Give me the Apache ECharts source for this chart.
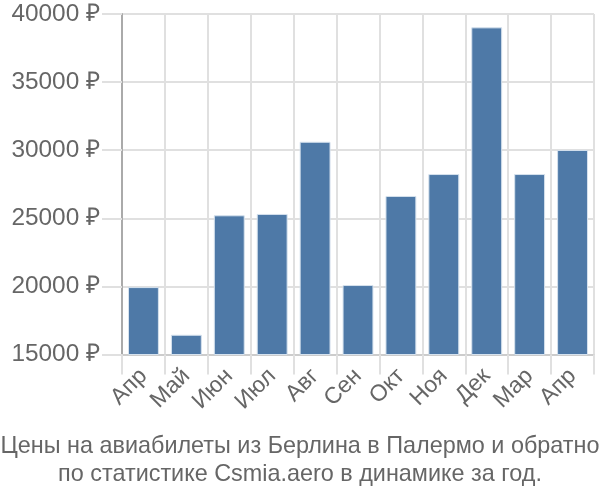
<!DOCTYPE html>
<html><head><meta charset="utf-8">
<script src="https://cdn.jsdelivr.net/npm/echarts@6/dist/echarts.min.js"></script>
<style>html,body{margin:0;padding:0;background:#fff}#c{width:600px;height:500px}</style>
</head><body><div id="c"></div>
<script>
const categories = ['Апр','Май','Июн','Июл','Авг','Сен','Окт','Ноя','Дек','Мар','Апр'];
const prices = [19950, 16450, 25220, 25320, 30620, 20100, 26640, 28250, 39020, 28250, 30020];
const yTicks = { min: 15000, max: 40000, interval: 5000 };
const titleLines = ['Цены на авиабилеты из Берлина в Палермо и обратно', 'по статистике Csmia.aero в динамике за год.'];

const font = 'Liberation Sans, Arial, sans-serif';
const chart = echarts.init(document.getElementById('c'), null, {renderer:'canvas'});
chart.setOption({
  animation: false,
  textStyle: { fontFamily: font },
  title: {
    text: titleLines.join('\n'),
    left: 'center', top: 428,
    textStyle: { fontFamily: font, fontSize: 23.4, fontWeight: 'normal', color: '#666', lineHeight: 28 }
  },
  grid: { left: 122, right: 6, top: 14, bottom: 145.5, containLabel: false },
  xAxis: {
    type: 'category', data: categories, boundaryGap: true,
    axisLine: { lineStyle: { color: '#ccc', width: 2 } },
    axisTick: { show: true, length: 20, lineStyle: { color: '#e0e0e0', width: 2 } },
    splitLine: { show: true, lineStyle: { color: '#e0e0e0', width: 2 } },
    axisLabel: { rotate: 45, fontSize: 23, color: '#666', margin: 18, fontFamily: font, interval: 0 }
  },
  yAxis: {
    type: 'value', min: yTicks.min, max: yTicks.max, interval: yTicks.interval,
    axisLine: { show: true, lineStyle: { color: '#aaa', width: 2 } },
    axisTick: { show: true, length: 20, lineStyle: { color: '#e0e0e0', width: 2 } },
    splitLine: { show: true, lineStyle: { color: '#e0e0e0', width: 2 } },
    axisLabel: { formatter: function (v) { return v + ' ₽'; }, fontSize: 24.4, color: '#666', margin: 22, fontFamily: font }
  },
  series: [{
    type: 'bar', data: prices, barCategoryGap: '28%',
    itemStyle: { color: '#4e79a7', borderColor: '#d6e2ee', borderWidth: 1 }
  }]
});
</script></body></html>
